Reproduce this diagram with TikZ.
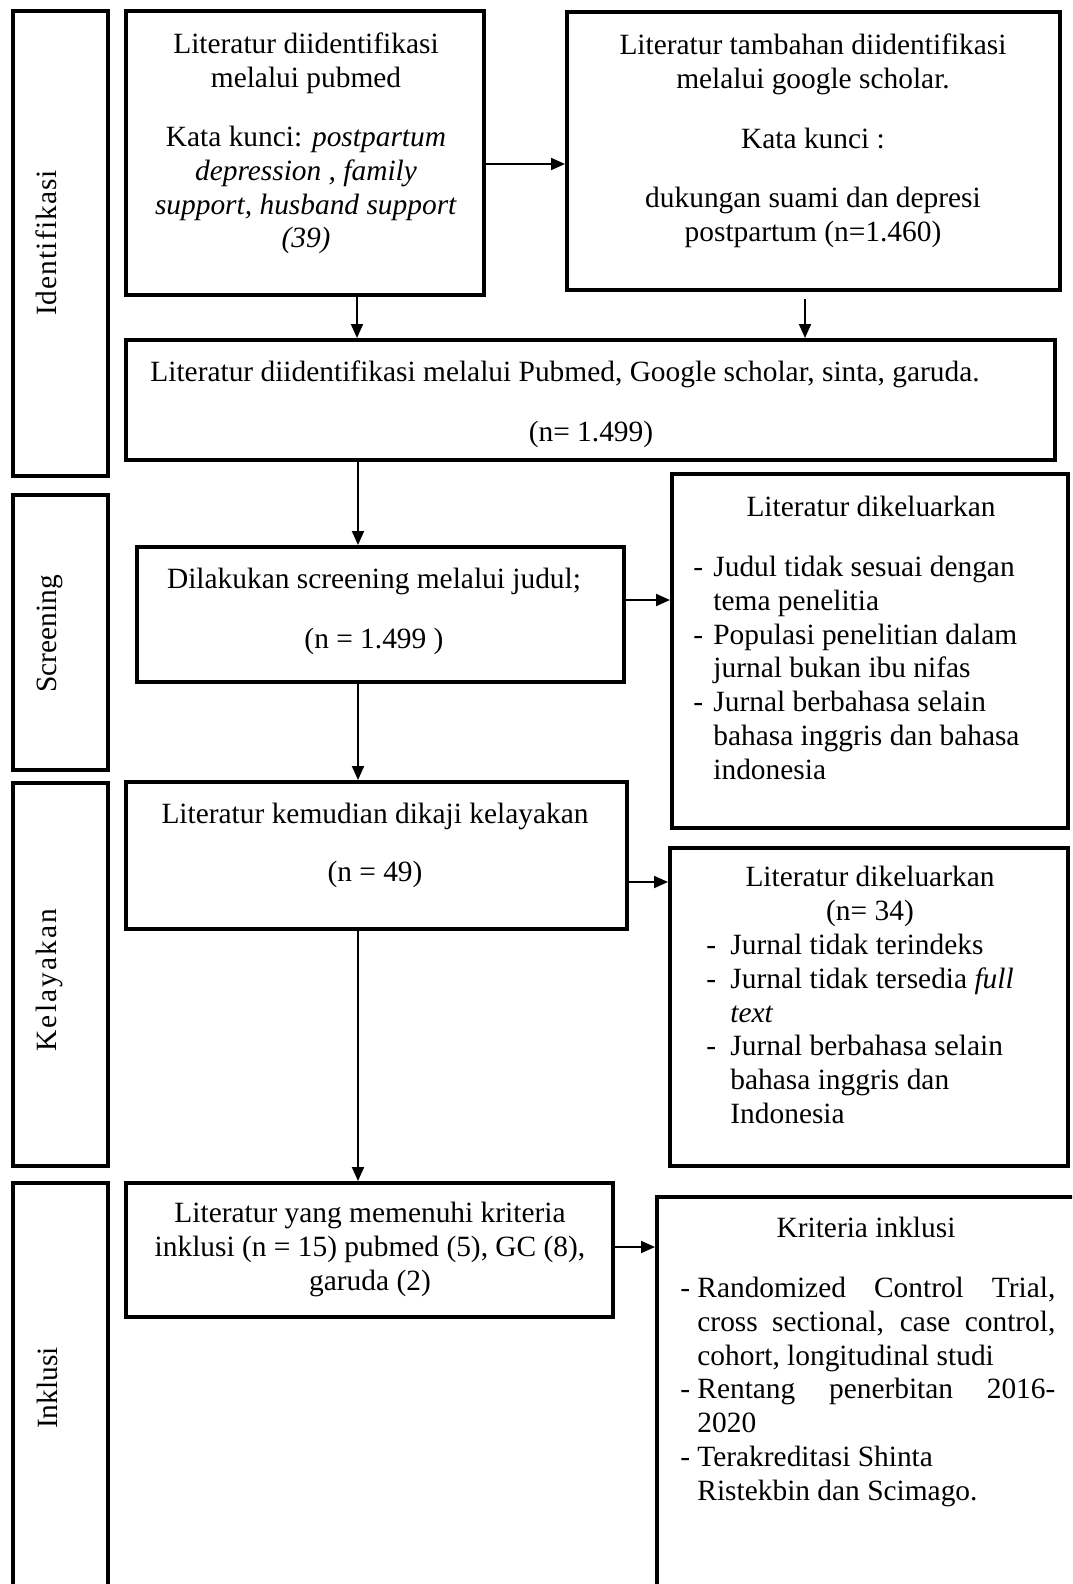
\documentclass[tikz,border=0pt]{standalone}
\usepackage{fontspec}
\setmainfont{Liberation Serif}
\usetikzlibrary{arrows.meta,fit}
\newcommand\tstr{\rule{0pt}{10.5pt}}
\newcommand\itm[1]{\makebox[#1][l]{-}}
\begin{document}
\begin{tikzpicture}[x=0.5pt,y=-0.5pt,
  box/.style={draw, line width=2pt, inner sep=0pt},
  txt/.style={inner sep=0pt, font=\fontsize{14.7}{16.9}\selectfont},
  ctxt/.style={txt, align=center, anchor=north},
  ltxt/.style={txt, align=left, anchor=north west},
  lab/.style={txt, rotate=90, anchor=base},
  arr/.style={line width=1pt, -{Triangle[length=7pt,width=6pt]}}]
\useasboundingbox (0,0) rectangle (1072,1584);
\clip (0,0) rectangle (1072,1584);

% stage boxes (left column)
\node[box, fit={(13,11) (107.5,476)}] (s1) {};
\node[box, fit={(13,495) (107.5,770)}] (s2) {};
\node[box, fit={(13,783) (107.5,1166)}] (s3) {};
\node[box, fit={(13,1183) (107.5,1610)}] (s4) {};
\node[lab] (l1) at (56,243) {\addfontfeature{LetterSpace=3.7}Identifikasi};
\node[lab] (l2) at (56,634) {Screening};
\node[lab] (l3) at (56,980) {\addfontfeature{LetterSpace=7.5}Kelayakan};
\node[lab] (l4) at (57,1388) {Inklusi};

% flow boxes
\node[box, fit={(126,11) (484,295)}] (b1) {};
\node[box, fit={(567,12) (1060,290)}] (b2) {};
\node[box, fit={(126,340) (1055,460)}] (b3) {};
\node[box, fit={(137,547) (624,682)}] (b4) {};
\node[box, fit={(672,474) (1068,828)}] (b5) {};
\node[box, fit={(126,782) (627,929)}] (b6) {};
\node[box, fit={(670,848) (1068,1166)}] (b7) {};
\node[box, fit={(126,1183) (613,1317)}] (b8) {};
\node[box, fit={(657,1197) (1082,1610)}] (b9) {};

% texts
\node[ctxt] (t1) at (306,32.5) {\tstr Literatur diidentifikasi\\melalui pubmed\\[12.5pt]Kata kunci: \textit{postpartum}\\\textit{depression , family}\\\textit{support, husband support}\\\textit{(39)}};
\node[ctxt] (t2) at (813,33) {\tstr Literatur tambahan diidentifikasi\\melalui google scholar.\\[13pt]Kata kunci :\\[13pt]dukungan suami dan depresi\\postpartum (n=1.460)};
\node[ltxt] (t3a) at (150,360) {\tstr Literatur diidentifikasi melalui Pubmed, Google scholar, sinta, garuda.};
\node[ctxt] (t3b) at (591,420) {\tstr (n= 1.499)};
\node[ctxt] (t4) at (374,567) {\tstr Dilakukan screening melalui judul;\\[13pt](n = 1.499 )};
\node[ctxt] (t5a) at (871,495) {\tstr Literatur dikeluarkan};
\node[ltxt] (t5b) at (693,555) {\tstr\itm{10pt}Judul tidak sesuai dengan\\\hspace*{10pt}tema penelitia\\\itm{10pt}Populasi penelitian dalam\\\hspace*{10pt}jurnal bukan ibu nifas\\\itm{10pt}Jurnal berbahasa selain\\\hspace*{10pt}bahasa inggris dan bahasa\\\hspace*{10pt}indonesia};
\node[ctxt] (t6) at (375,802) {\tstr Literatur kemudian dikaji kelayakan\\[12pt](n = 49)};
\node[ctxt] (t7a) at (870,865) {\tstr Literatur dikeluarkan\\(n= 34)};
\node[ltxt] (t7b) at (706,933) {\tstr\itm{12pt}Jurnal tidak terindeks\\\itm{12pt}Jurnal tidak tersedia \textit{full}\\\hspace*{12pt}\textit{text}\\\itm{12pt}Jurnal berbahasa selain\\\hspace*{12pt}bahasa inggris dan\\\hspace*{12pt}Indonesia};
\node[ctxt] (t8) at (370,1201) {\tstr Literatur yang memenuhi kriteria\\inklusi (n = 15) pubmed (5), GC (8),\\garuda (2)};
\node[ctxt] (t9a) at (866,1216) {\tstr Kriteria inklusi};
\node[ltxt] (t9b) at (680,1276) {\tstr\itm{8.5pt}\makebox[179pt][s]{Randomized Control Trial,}\\\hspace*{8.5pt}\makebox[179pt][s]{cross sectional, case control,}\\\hspace*{8.5pt}cohort, longitudinal studi\\\itm{8.5pt}\makebox[179pt][s]{Rentang penerbitan 2016-}\\\hspace*{8.5pt}2020\\\itm{8.5pt}Terakreditasi Shinta\\\hspace*{8.5pt}Ristekbin dan Scimago.};

% connectors
\draw[arr] (b1.east |- 0,164) -- (b2.west |- 0,164);
\draw[arr] (b1.south -| 357,0) -- (b3.north -| 357,0);
\draw[arr, shorten <=3.5pt] (b2.south -| 805,0) -- (b3.north -| 805,0);
\draw[arr] (b3.south -| 358,0) -- (b4.north -| 358,0);
\draw[arr] (b4.east |- 0,600) -- (b5.west |- 0,600);
\draw[arr] (b4.south -| 358,0) -- (b6.north -| 358,0);
\draw[arr] (b6.east |- 0,882) -- (b7.west |- 0,882);
\draw[arr] (b6.south -| 358,0) -- (b8.north -| 358,0);
\draw[arr] (b8.east |- 0,1247) -- (b9.west |- 0,1247);
\end{tikzpicture}
\end{document}
